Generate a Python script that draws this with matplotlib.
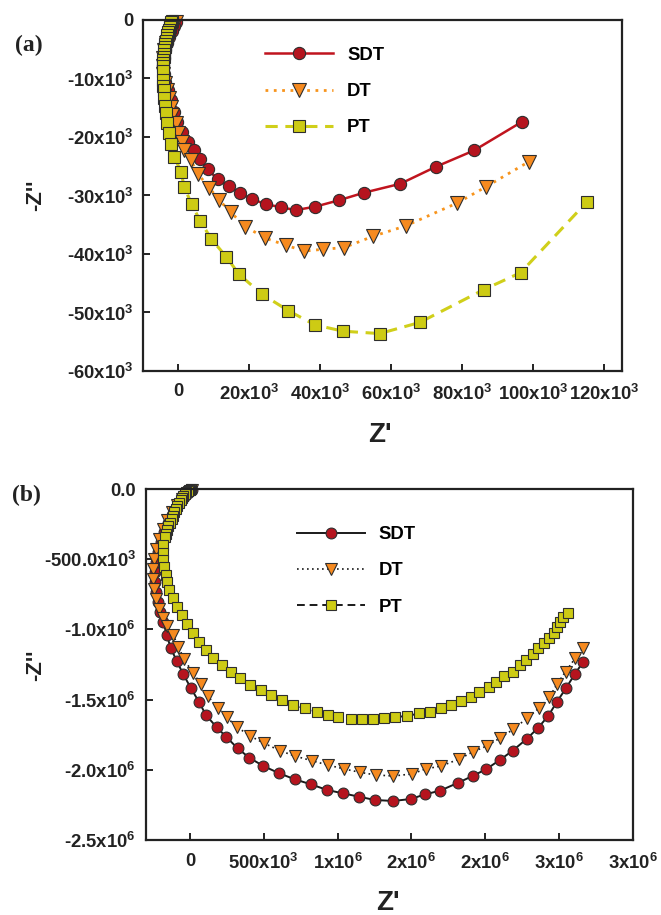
import matplotlib
matplotlib.use("Agg")
import matplotlib.pyplot as plt
import numpy as np
from matplotlib.ticker import FixedLocator, FixedFormatter

plt.rcParams['font.family'] = ['Liberation Sans', 'DejaVu Sans']
plt.rcParams['font.weight'] = 'bold'
plt.rcParams['mathtext.fontset'] = 'custom'
plt.rcParams['mathtext.rm'] = 'Liberation Sans:bold'
plt.rcParams['mathtext.it'] = 'Liberation Sans:bold'
plt.rcParams['mathtext.bf'] = 'Liberation Sans:bold'
plt.rcParams['mathtext.default'] = 'rm'

# ---- panel (a): values in kOhm ----
a_sdt_x = [-0.6, -1.2, -1.9, -2.6, -3.2, -3.7, -4.1, -4.3, -4.2, -3.8, -3.0, -2.2,
           -1.2, -0.3, 1.1, 2.8, 4.4, 6.0, 8.2, 11.0, 14.1, 17.4, 20.6, 24.7, 28.9,
           33.0, 38.6, 45.3, 52.4, 62.5, 72.5, 83.3, 96.8]
a_sdt_y = [-0.3, -1.0, -1.9, -2.9, -4.0, -5.2, -6.5, -7.8, -9.2, -10.6, -12.0, -13.6,
           -15.7, -17.4, -19.1, -20.8, -22.2, -23.8, -25.5, -27.2, -28.4, -29.6, -30.6,
           -31.5, -32.0, -32.5, -31.9, -30.8, -29.5, -28.0, -25.1, -22.3, -17.4]

a_dt_x = [-0.8, -1.5, -2.2, -2.9, -3.5, -4.0, -4.3, -4.4, -4.3, -3.9, -3.3, -2.6,
          -2.1, -1.7, -0.7, 0.0, 1.1, 1.6, 3.5, 5.6, 8.7, 11.5, 14.8, 18.8, 24.5, 30.3,
          35.4, 40.7, 46.7, 54.7, 64.0, 78.5, 86.7, 98.8]
a_dt_y = [-0.3, -1.0, -1.9, -2.9, -4.0, -5.2, -6.5, -7.9, -9.3, -10.7, -12.0, -13.4,
          -14.8, -16.2, -17.6, -19.3, -20.8, -22.2, -24.0, -26.4, -28.7, -30.8, -32.9,
          -35.3, -37.3, -38.5, -39.5, -39.2, -38.9, -37.0, -35.2, -31.3, -28.5, -24.2]

a_pt_x = [-1.9, -2.1, -2.3, -2.5, -2.7, -2.9, -3.1, -3.3, -3.5, -3.7, -3.8, -4.0,
          -4.1, -4.2, -4.3, -4.4, -4.5, -4.5, -4.5, -4.5, -4.2, -4.0, -3.8, -3.6,
          -3.3, -2.8, -2.1, -1.2, 0.7, 1.6, 3.7, 6.1, 9.2, 13.5, 17.1, 23.6, 31.0,
          38.4, 46.4, 56.7, 68.0, 86.0, 96.4, 115.1]
a_pt_y = [-0.1, -0.4, -0.8, -1.2, -1.7, -2.1, -2.6, -3.1, -3.6, -4.1, -4.7, -5.2,
          -5.8, -6.3, -6.9, -7.4, -7.9, -8.8, -10.3, -11.2, -12.0, -13.4, -14.7,
          -15.9, -17.6, -19.3, -21.2, -23.4, -25.9, -28.5, -31.5, -34.3, -37.4, -40.5,
          -43.5, -46.9, -49.7, -52.1, -53.2, -53.6, -51.7, -46.1, -43.2, -31.1]

a_xticks = [0, 20e3, 40e3, 60e3, 80e3, 100e3, 120e3]
a_xlabels = ['0', '20x10$^{3}$', '40x10$^{3}$', '60x10$^{3}$', '80x10$^{3}$',
             '100x10$^{3}$', '120x10$^{3}$']
a_yticks = [0, -10e3, -20e3, -30e3, -40e3, -50e3, -60e3]
a_ylabels = ['0', '-10x10$^{3}$', '-20x10$^{3}$', '-30x10$^{3}$', '-40x10$^{3}$',
             '-50x10$^{3}$', '-60x10$^{3}$']

# ---- panel (b): values in kOhm ----
b_sdt_x = [14, -14, -41, -68, -95, -122, -149, -176, -197, -217, -230, -237, -237,
           -230, -217, -203, -181, -158, -129, -90, -45, 7, 63, 108, 181, 244, 323,
           402, 497, 605, 711, 818, 930, 1039, 1147, 1253, 1377, 1497, 1592, 1694,
           1818, 1915, 2005, 2100, 2186, 2281, 2360, 2427, 2486, 2547, 2608, 2665]
b_sdt_y = [-7, -28, -57, -93, -135, -185, -242, -306, -377, -449, -520, -591, -662,
           -734, -805, -874, -945, -1040, -1135, -1225, -1320, -1420, -1520, -1610,
           -1697, -1764, -1847, -1914, -1973, -2025, -2068, -2103, -2144, -2168, -2192,
           -2215, -2222, -2208, -2175, -2149, -2092, -2044, -1997, -1930, -1864, -1781,
           -1700, -1617, -1517, -1420, -1318, -1230]

b_dt_x = [14, -20, -54, -88, -122, -156, -183, -210, -230, -244, -251, -251, -244,
          -230, -210, -183, -158, -113, -79, -39, 18, 75, 120, 192, 249, 316, 407, 503,
          610, 711, 825, 933, 1045, 1152, 1260, 1377, 1502, 1597, 1701, 1826, 1915,
          2010, 2104, 2190, 2283, 2364, 2434, 2488, 2545, 2610, 2665]
b_dt_y = [-7, -36, -71, -114, -164, -221, -285, -356, -427, -499, -570, -641, -712,
          -784, -855, -919, -976, -1040, -1123, -1213, -1308, -1389, -1474, -1562,
          -1626, -1693, -1759, -1811, -1864, -1902, -1935, -1966, -1994, -2018, -2037,
          -2044, -2030, -1994, -1973, -1923, -1873, -1831, -1772, -1712, -1633, -1562,
          -1484, -1389, -1301, -1206, -1130]

b_pt_x = [7, 0, -7, -14, -24, -34, -44, -54, -64, -75, -85, -95, -105, -115, -125,
          -136, -146, -156, -163, -169, -181, -181, -181, -174,
          -165, -154, -140, -113, -86, -56, -22, 18, 63, 108, 158, 215, 278, 339, 407,
          481, 549, 621, 700, 779, 858, 933, 1005, 1091, 1168, 1242, 1316, 1389, 1472,
          1554, 1626, 1701, 1768, 1836, 1904, 1960, 2026, 2073, 2129, 2186, 2236, 2276,
          2322, 2360, 2398, 2434, 2466, 2485, 2507, 2529, 2563]
b_pt_y = [0, -5, -8, -14, -24, -36, -50, -64, -81, -100, -120, -142, -166, -192, -217,
          -242, -267, -292, -318, -342, -399, -454, -506,
          -558, -613, -660, -719, -779, -838, -897, -962, -1024, -1088, -1147, -1206,
          -1254, -1301, -1348, -1396, -1432, -1467, -1503, -1539, -1562, -1586, -1610,
          -1626, -1638, -1638, -1638, -1633, -1624, -1617, -1598, -1586, -1558, -1539,
          -1508, -1479, -1444, -1408, -1373, -1332, -1301, -1254, -1218, -1175, -1135,
          -1099, -1063, -1024, -981, -945, -914, -885]

b_xticks = [0, 0.5e6, 1.0e6, 1.5e6, 2.0e6, 2.5e6, 3.0e6]
b_xlabels = ['0', '500x10$^{3}$', '1x10$^{6}$', '2x10$^{6}$', '2x10$^{6}$',
             '3x10$^{6}$', '3x10$^{6}$']
b_yticks = [0, -0.5e6, -1.0e6, -1.5e6, -2.0e6, -2.5e6]
b_ylabels = ['0.0', '-500.0x10$^{3}$', '-1.0x10$^{6}$', '-1.5x10$^{6}$',
             '-2.0x10$^{6}$', '-2.5x10$^{6}$']

RED = '#B5141E'
ORANGE = '#F68A1F'
YELLOW = '#CDCB14'
EDGE = '#2E2E2E'
AXC = '#222222'
FS = 13.3


def style_axes(ax, xt, xl, yt, yl):
    for s in ax.spines.values():
        s.set_linewidth(1.6)
        s.set_color(AXC)
    ax.xaxis.set_major_locator(FixedLocator(xt))
    ax.xaxis.set_major_formatter(FixedFormatter(xl))
    ax.yaxis.set_major_locator(FixedLocator(yt))
    ax.yaxis.set_major_formatter(FixedFormatter(yl))
    ax.tick_params(direction='in', length=5, width=1.4, color=AXC,
                   labelsize=FS, top=False, right=False)
    ax.tick_params(axis='x', pad=9)
    ax.tick_params(axis='y', pad=7)
    for lab in ax.get_xticklabels() + ax.get_yticklabels():
        lab.set_fontweight('bold')
        lab.set_color(AXC)


def add_legend(ax, anchor):
    ax.legend(loc='upper left', bbox_to_anchor=anchor, frameon=False,
              borderpad=0, borderaxespad=0, handlelength=3.7, handletextpad=0.75,
              labelspacing=1.05, prop={'weight': 'bold', 'size': FS})


fig = plt.figure(figsize=(6.61, 9.15), dpi=100)

# panel (a)
ax1 = fig.add_axes([143 / 661, 1 - 371 / 915, 479 / 661, 351 / 915])
mk = dict(markeredgecolor=EDGE, markeredgewidth=0.8, clip_on=False)
ax1.plot(np.array(a_sdt_x) * 1e3, np.array(a_sdt_y) * 1e3, '-', color='#C0141E',
         lw=1.8, marker='o', ms=8.8, markerfacecolor=RED, label='SDT', **mk)
ax1.plot(np.array(a_dt_x) * 1e3, np.array(a_dt_y) * 1e3, color='#F7941D',
         lw=2.0, ls=(0, (1, 2)), marker='v', ms=9.5, markerfacecolor=ORANGE,
         label='DT', **mk)
ax1.plot(np.array(a_pt_x) * 1e3, np.array(a_pt_y) * 1e3, color='#D0CF1A',
         lw=2.2, ls=(0, (4, 2.5)), marker='s', ms=9, markerfacecolor=YELLOW,
         label='PT', **mk)
ax1.set_xlim(-10e3, 125e3)
ax1.set_ylim(-60e3, 0)
style_axes(ax1, a_xticks, a_xlabels, a_yticks, a_ylabels)
add_legend(ax1, (0.2547, 0.924))
fig.text(380 / 661, 1 - 435 / 915, "Z'", ha='center', va='center',
         fontsize=20, fontweight='bold', color=AXC)
fig.text(36 / 661, 1 - 195 / 915, "-Z''", ha='center', va='center', rotation=90,
         fontsize=16, fontweight='bold', color=AXC)
fig.text(29 / 661, 1 - 45 / 915, '(a)', ha='center', va='center', fontsize=17,
         fontweight='bold', family='Liberation Serif', color=AXC)

# panel (b)
ax2 = fig.add_axes([145.7 / 661, 1 - 840 / 915, 487 / 661, 351 / 915])
mk2 = dict(markeredgecolor=EDGE, markeredgewidth=0.8, clip_on=False)
ax2.plot(np.array(b_sdt_x) * 1e3, np.array(b_sdt_y) * 1e3, '-', color='#1A1A1A',
         lw=1.4, marker='o', ms=7.8, markerfacecolor=RED, label='SDT', **mk2)
ax2.plot(np.array(b_dt_x) * 1e3, np.array(b_dt_y) * 1e3, color='#1A1A1A',
         lw=1.2, ls=(0, (1, 2)), marker='v', ms=8.2, markerfacecolor=ORANGE,
         label='DT', **mk2)
ax2.plot(np.array(b_pt_x) * 1e3, np.array(b_pt_y) * 1e3, color='#1A1A1A',
         lw=1.4, ls=(0, (4, 2.5)), marker='s', ms=7.8, markerfacecolor=YELLOW,
         label='PT', **mk2)
ax2.set_xlim(-300e3, 3.0e6)
ax2.set_ylim(-2.5e6, 0)
style_axes(ax2, b_xticks, b_xlabels, b_yticks, b_ylabels)
add_legend(ax2, (0.310, 0.8945))
fig.text(388 / 661, 1 - 903 / 915, "Z'", ha='center', va='center',
         fontsize=20, fontweight='bold', color=AXC)
fig.text(36 / 661, 1 - 665 / 915, "-Z''", ha='center', va='center', rotation=90,
         fontsize=16, fontweight='bold', color=AXC)
fig.text(26 / 661, 1 - 495 / 915, '(b)', ha='center', va='center', fontsize=17,
         fontweight='bold', family='Liberation Serif', color=AXC)

fig.savefig('out.png', dpi=100)
